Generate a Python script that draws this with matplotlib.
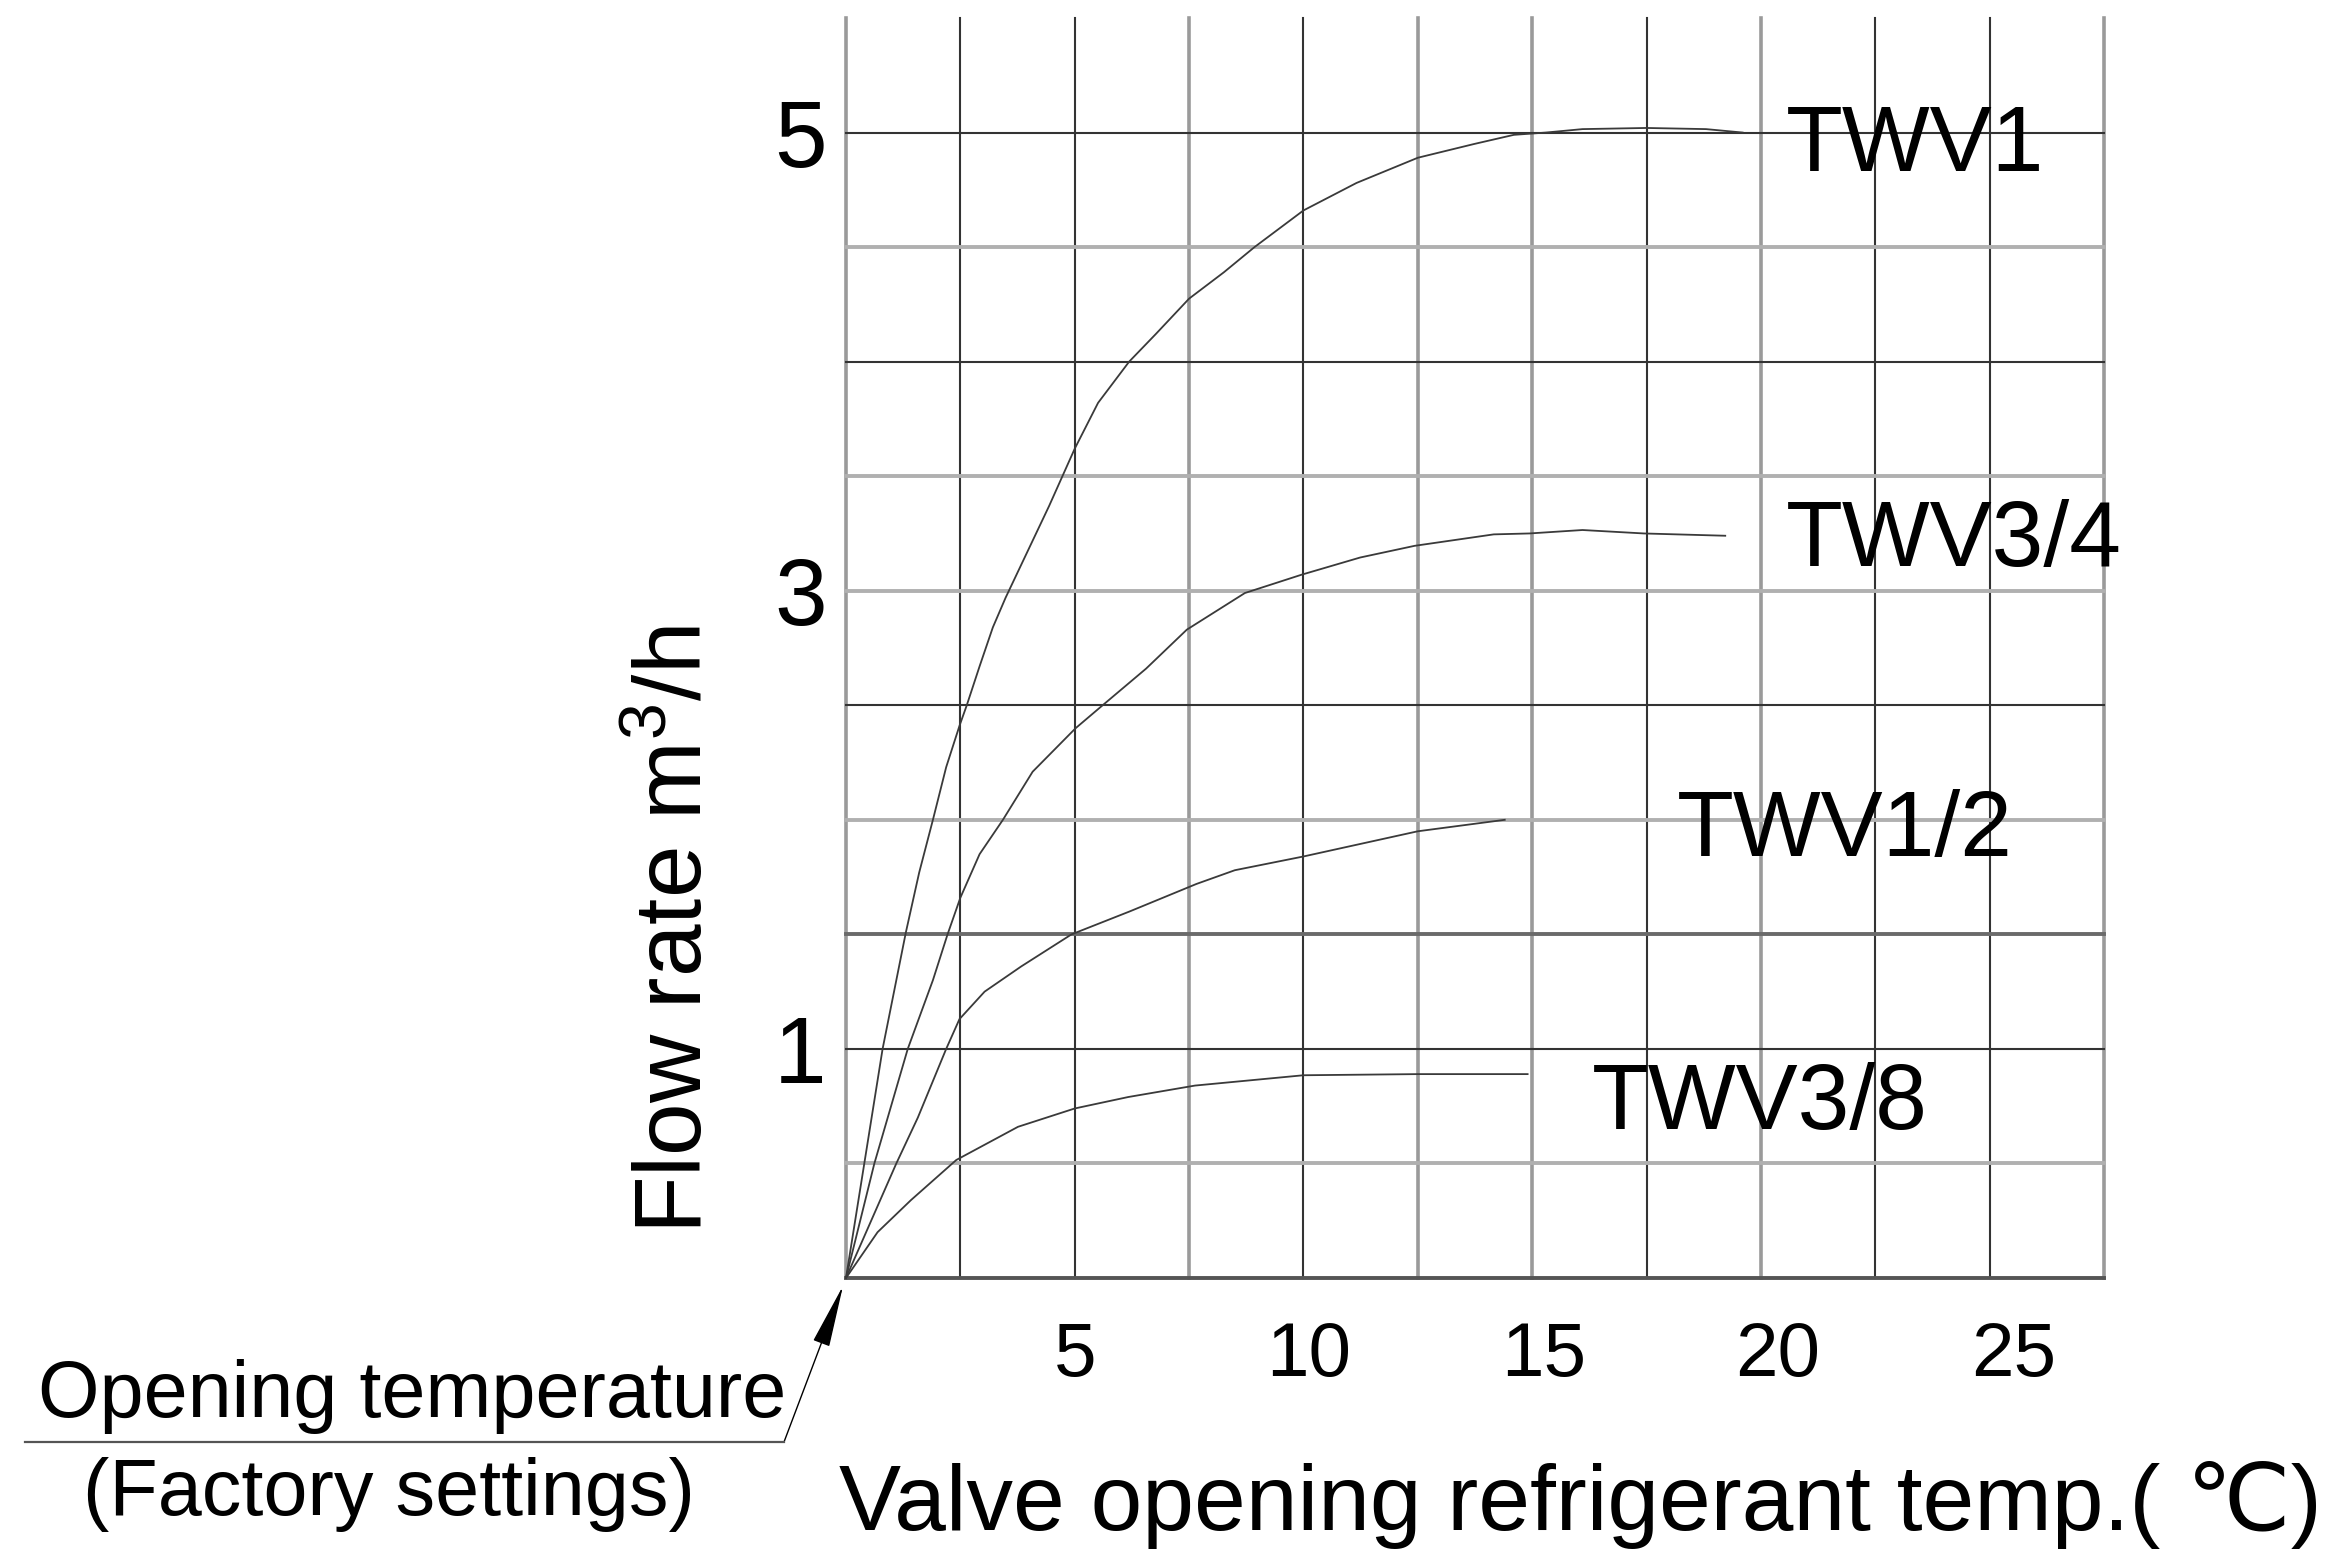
import numpy as np
import matplotlib
matplotlib.use('Agg')
import matplotlib.pyplot as plt
from matplotlib.lines import Line2D
from matplotlib.transforms import offset_copy

plt.rcParams['font.family'] = ['Liberation Sans', 'DejaVu Sans']
plt.rcParams['mathtext.fontset'] = 'custom'
plt.rcParams['mathtext.rm'] = 'Liberation Sans'
plt.rcParams['mathtext.default'] = 'regular'

# flow curves (x: temp rise in C, y: flow m3/h)
twv1_x = [0, 0.4, 0.8, 1.31, 1.6, 1.9, 2.19, 2.48, 2.64, 2.92, 3.21, 3.49, 4.44, 5.0, 5.51, 6.19,
          6.77, 7.5, 8.26, 8.93, 10, 11.16, 12.5, 13.73, 14.6, 15.3, 16.1, 17.5, 18.8, 19.6]
twv1_y = [0, 0.5, 1.0, 1.51, 1.77, 2.0, 2.23, 2.41, 2.5, 2.67, 2.84, 2.97, 3.37, 3.62, 3.82, 4.0,
          4.12, 4.275, 4.39, 4.5, 4.66, 4.78, 4.89, 4.95, 4.99, 5.0, 5.015, 5.02, 5.015, 5.0]

twv34_x = [0, 0.62, 1.35, 1.9, 2.22, 2.5, 2.92, 3.43, 4.08, 5.02, 5.61, 6.56, 7.45, 8.72, 9.96,
           11.24, 12.43, 14.16, 14.94, 16.1, 17.44, 19.22]
twv34_y = [0, 0.5, 1.0, 1.3, 1.5, 1.66, 1.85, 2.0, 2.21, 2.40, 2.5, 2.66, 2.83, 2.99, 3.07,
           3.145, 3.196, 3.246, 3.25, 3.265, 3.25, 3.24]

twv12_x = [0, 0.55, 1.1, 1.57, 2.19, 2.48, 3.03, 3.83, 4.93, 6.2, 7.66, 8.5, 10, 12.5, 14.4]
twv12_y = [0, 0.25, 0.5, 0.7, 1.0, 1.13, 1.25, 1.36, 1.5, 1.6, 1.72, 1.78, 1.84, 1.95, 2.0]

twv38_x = [0, 0.69, 1.42, 2.41, 3.76, 5.0, 6.17, 7.63, 10, 12.5, 14.9]
twv38_y = [0, 0.2, 0.34, 0.515, 0.66, 0.74, 0.79, 0.84, 0.885, 0.89, 0.89]

valves = ['TWV1', 'TWV3/4', 'TWV1/2', 'TWV3/8']
xticks = [5, 10, 15, 20, 25]
yticks = [1, 3, 5]
xgrid = [0, 2.5, 5, 7.5, 10, 12.5, 15, 17.5, 20, 22.5, 25, 27.5]
ygrid = [0, 0.5, 1, 1.5, 2, 2.5, 3, 3.5, 4, 4.5, 5]

# scanned grid: mix of thin dark and thick light lines
xgrid_col = ['#9a9a9a', '#333333', '#333333', '#9a9a9a', '#333333', '#9a9a9a',
             '#9a9a9a', '#333333', '#9a9a9a', '#333333', '#333333', '#9a9a9a']
ygrid_col = ['#555555', '#b0b0b0', '#333333', '#6a6a6a', '#b0b0b0', '#333333',
             '#b0b0b0', '#b0b0b0', '#333333', '#b0b0b0', '#333333']
# hand-placed x tick numbers drift a little to the right (pixels)
xtick_dx = [0, 5, 12, 17, 24]

fig = plt.figure(figsize=(23.42, 15.52), dpi=100)
ax = fig.add_axes([846/2342, 1-1278/1552, (2104-846)/2342, (1278-18)/1552])
ax.set_xlim(0, 27.5)
ax.set_ylim(0, 5.5)
for s in ax.spines.values():
    s.set_visible(False)

for x, c in zip(xgrid, xgrid_col):
    lw = 2.6 if c == '#9a9a9a' else 1.5
    ax.axvline(x, color=c, lw=lw, zorder=1, clip_on=False)
for y, c in zip(ygrid, ygrid_col):
    lw = 1.5 if c == '#333333' else 2.8
    ax.axhline(y, color=c, lw=lw, zorder=1, clip_on=False)

curves = [(twv1_x, twv1_y), (twv34_x, twv34_y), (twv12_x, twv12_y), (twv38_x, twv38_y)]
lbl_pos = [(20.55, 4.83), (20.55, 3.11), (18.16, 1.84), (16.3, 0.65)]
for (cx, cy), name, (lx, ly) in zip(curves, valves, lbl_pos):
    ax.plot(cx, cy, color='#3a3a3a', lw=1.3, zorder=3, clip_on=False,
            solid_joinstyle='round')
    ax.text(lx, ly, name, fontsize=67, ha='left', va='baseline', zorder=4)

ax.set_xticks([])
for t, dx in zip(xticks, xtick_dx):
    tr = offset_copy(ax.get_xaxis_transform(), fig=fig, x=dx, y=-43, units='dots')
    ax.text(t, 0, str(t), transform=tr, fontsize=55, ha='center', va='top')
ax.set_yticks(yticks)
ax.set_yticklabels([str(t) for t in yticks])
ax.tick_params(axis='y', length=0, pad=14, labelsize=68)

fig.text(839/2342, 1-1530/1552, 'Valve opening refrigerant temp.( \u2103)',
         fontsize=67, ha='left', va='baseline')
fig.text(702/2342, 1-930/1552, 'Flow rate m$^{3}$/h', fontsize=68,
         rotation=90, rotation_mode='anchor', ha='center', va='baseline')

# opening temperature call-out
fig.text(38/2342, 1-1417/1552, 'Opening temperature', fontsize=57, ha='left', va='baseline')
fig.text(83/2342, 1-1515/1552, '(Factory settings)', fontsize=57, ha='left', va='baseline')
fig.add_artist(Line2D([25/2342, 784/2342], [1-1442/1552, 1-1442/1552],
                      transform=fig.transFigure, color='#555555', lw=1.6))
ax.annotate('', xy=(0, 0), xycoords='data',
            xytext=(784, 1552-1442), textcoords='figure pixels',
            arrowprops=dict(arrowstyle='-|>,head_length=4.0,head_width=0.55',
                            mutation_scale=10, color='black', lw=1.0,
                            shrinkA=0, shrinkB=6))

fig.savefig('out.png', dpi=100)
